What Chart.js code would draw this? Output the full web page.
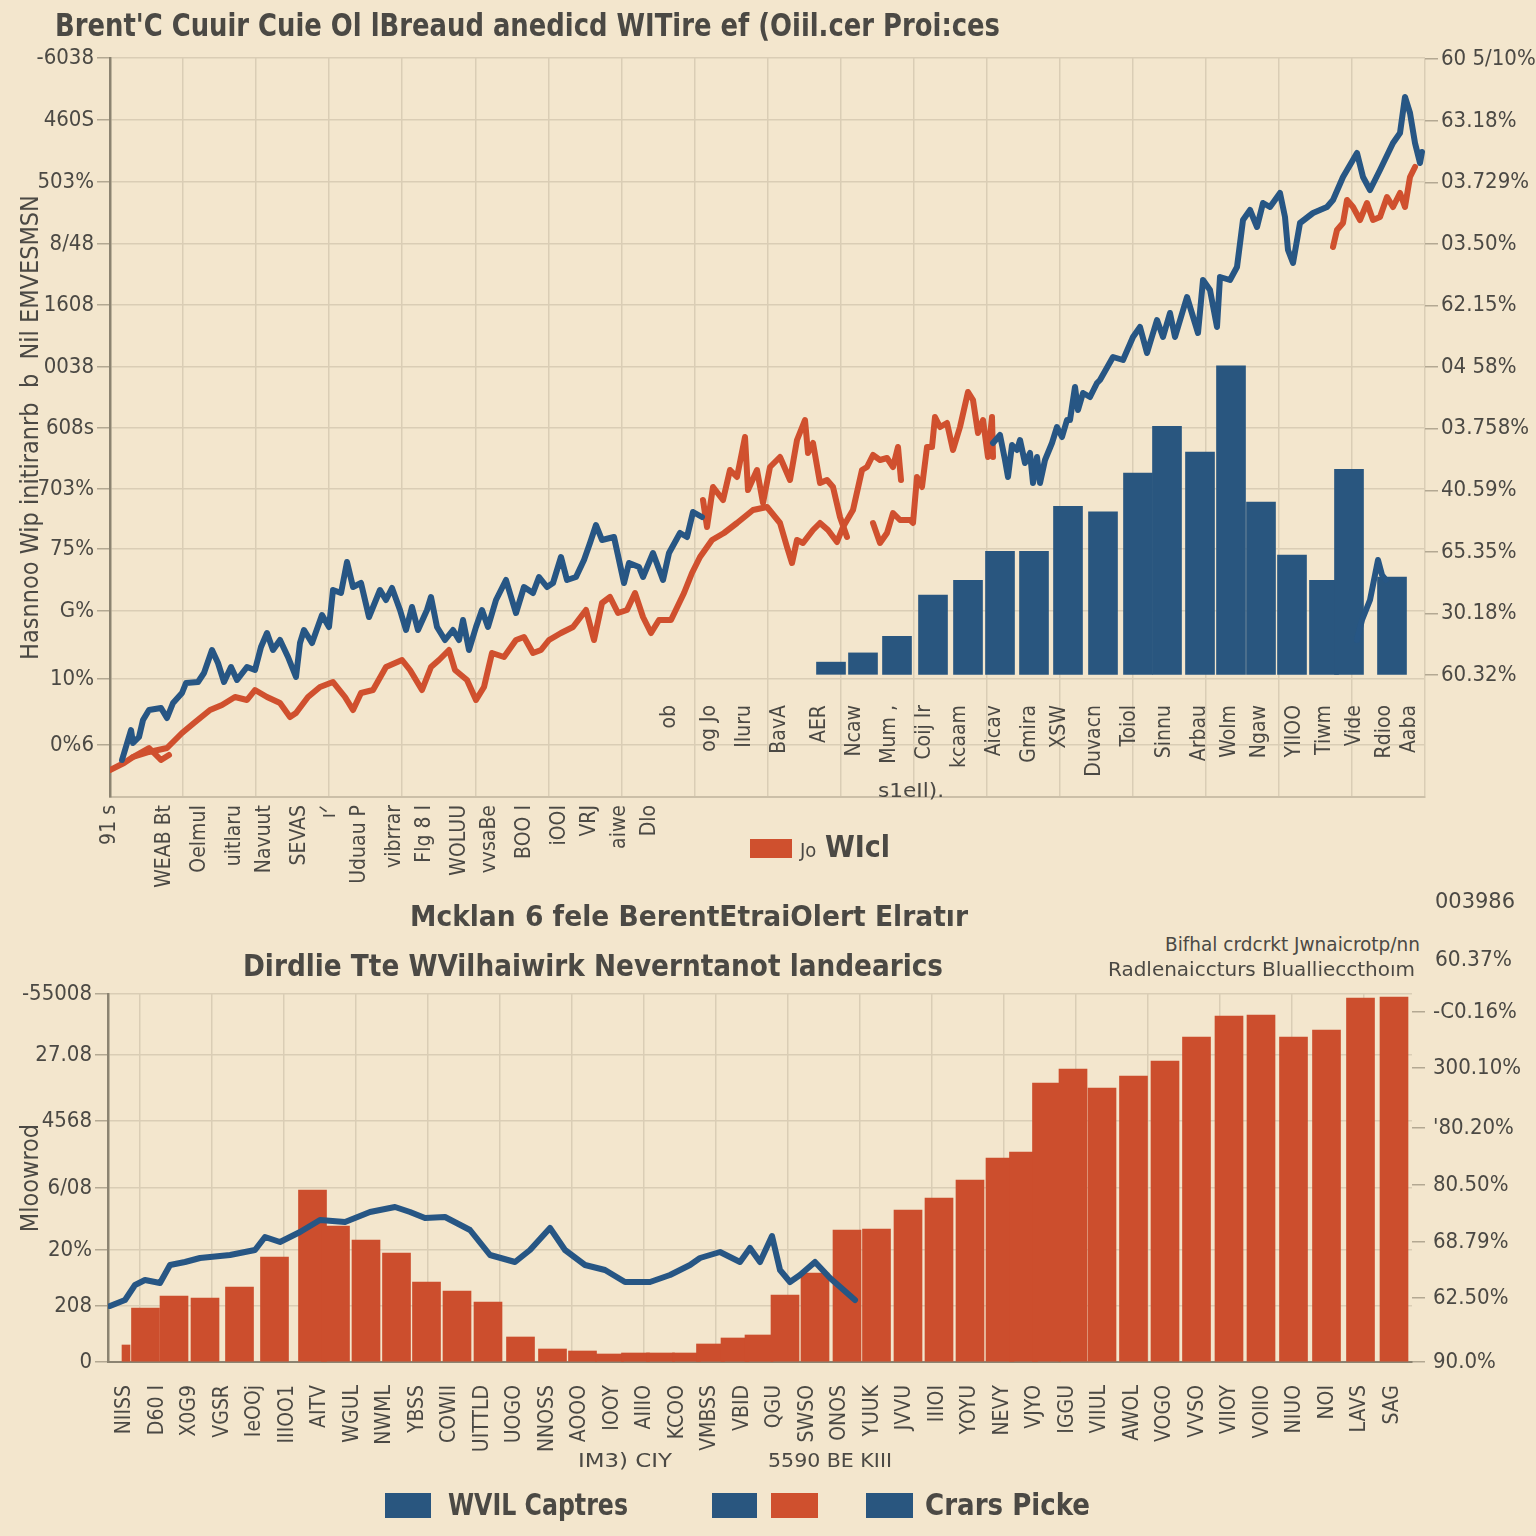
<!DOCTYPE html>
<html>
<head>
<meta charset="utf-8">
<script src="https://cdn.jsdelivr.net/npm/chart.js@4.4.1/dist/chart.umd.min.js"></script>
<style>
html,body{margin:0;padding:0;background:#f3e6cd;}
#wrap{position:relative;width:1536px;height:1536px;overflow:hidden;background:#f3e6cd;}
canvas{position:absolute;left:0;}
.t{position:absolute;white-space:nowrap;color:#4b4944;line-height:1;transform-origin:0 50%;
   font-family:"Liberation Sans Narrow","DejaVu Sans Condensed","Liberation Sans",sans-serif;z-index:2;}
.b{font-weight:bold;}
.box{position:absolute;z-index:2;}
</style>
</head>
<body>
<div id="wrap">
  <canvas id="topChart" width="1536" height="900" style="top:0"></canvas>
  <canvas id="botChart" width="1536" height="576" style="top:960px"></canvas>

  <div class="t b" data-w="945" style="left:55px;top:9px;font-size:32px;">Brent'C Cuuir Cuie Ol lBreaud anedicd WITire ef (Oiil.cer Proi:ces</div>

  <div class="box" style="left:750px;top:839px;width:42px;height:19px;background:#cf502e;"></div>
  <div class="t" data-w="90" style="left:800px;top:832px;font-size:30px;"><span style="font-size:20px">Jo</span> <b>WIcl</b></div>
  <div class="t" data-w="66" style="left:878px;top:780px;font-size:20px;">s1eIl).</div>

  <div class="t b" data-w="558" style="left:410px;top:902px;font-size:29px;">Mcklan 6 fele BerentEtraiOlert Elratır</div>
  <div class="t b" data-w="700" style="left:243px;top:950px;font-size:31px;">Dirdlie  Tte WVilhaiwirk Neverntanot landearics</div>
  <div class="t" data-w="255" style="left:1165px;top:935px;font-size:19px;">Bifhal crdcrkt Jwnaicrotp/nn</div>
  <div class="t" data-w="307" style="left:1108px;top:960px;font-size:19px;">Radlenaiccturs Bluallieccthoım</div>
  <div class="t" data-w="80" style="left:1435px;top:891px;font-size:21px;">003986</div>
  <div class="t" data-w="77" style="left:1435px;top:949px;font-size:21px;">60.37%</div>

  <div class="t" data-w="94" style="left:578px;top:1450px;font-size:20px;">IM3) CIY</div>
  <div class="t" data-w="124" style="left:768px;top:1450px;font-size:20px;">5590 BE KIII</div>

  <div class="box" style="left:385px;top:1493px;width:46px;height:25px;background:#29567f;"></div>
  <div class="t" data-w="180" style="left:448px;top:1490px;font-size:30px;font-weight:600;">WVIL Captres</div>
  <div class="box" style="left:712px;top:1493px;width:45px;height:25px;background:#29567f;"></div>
  <div class="box" style="left:771px;top:1493px;width:47px;height:25px;background:#cf502e;"></div>
  <div class="box" style="left:866px;top:1493px;width:47px;height:25px;background:#29567f;"></div>
  <div class="t" data-w="165" style="left:925px;top:1490px;font-size:30px;font-weight:600;">Crars Picke</div>
</div>

<script>
// ---------- top chart data (x: period index, y: left axis units) ----------
const blueEarly = [[2.4,3.7],[4.2,6.7],[4.6,5.4],[5.8,6.0],[6.6,7.7],[7.8,8.7],[10.2,8.9],[11.4,7.9],[12.6,9.4],[14.4,10.4],
  [15.2,11.4],[17.6,11.5],[18.8,12.4],[20.4,14.7],[21.6,13.4],[22.8,11.5],[24.2,13.0],[25.4,11.7],[27.4,13.0],[29.0,12.7],
  [30.2,15.0],[31.4,16.4],[32.6,14.7],[34.0,15.7],[35.6,14.0],[37.2,12.0],[38.0,15.4],[38.8,16.7],[40.4,15.4],[42.4,18.2],
  [43.8,17.0],[44.6,20.7],[46.2,20.4],[47.4,23.5],[48.6,21.0],[50.2,21.4],[51.8,18.0],[54.0,20.7],[55.2,19.7],[56.4,20.9],
  [58.0,18.7],[59.2,16.7],[60.4,19.0],[61.6,16.7],[63.4,18.7],[64.2,20.0],[65.4,17.0],[67.0,15.7],[68.6,16.7],[69.8,15.7],
  [70.6,17.7],[71.8,14.7],[73.2,17.0],[74.4,18.7],[75.6,17.0],[77.2,19.7],[79.2,21.7],[80.4,19.7],[81.2,18.4],[82.8,21.0],
  [84.6,20.4],[85.8,22.0],[87.4,21.0],[88.6,21.4],[90.2,24.0],[91.4,21.7],[93.2,22.0],[94.8,23.7],[96.0,25.4],[97.2,27.2],
  [98.4,25.7],[100.8,26.0],[102.8,21.4],[103.8,23.4],[105.8,23.0],[106.6,22.0],[108.6,24.4],[110.6,21.7],[111.8,24.4],
  [114.0,26.4],[115.4,26.0],[116.6,28.5],[118.4,28.0]];

const blueLate = [[176.6,35.4],[178.0,36.2],[179.0,33.7],[179.6,32.0],[180.4,35.2],[181.4,34.7],[182.0,35.7],[183.0,33.4],
  [184.0,34.4],[184.6,31.4],[185.4,34.0],[186.0,31.4],[187.0,33.7],[188.4,35.4],[189.4,37.0],[190.4,36.0],[191.4,37.7],
  [192.0,37.7],[193.0,41.0],[193.6,38.7],[194.6,40.4],[196.0,40.0],[197.4,41.4],[198.0,41.7],[200.6,44.0],[202.6,43.7],
  [204.6,46.0],[206.0,47.0],[207.4,44.4],[209.4,47.7],[210.6,46.0],[212.0,48.4],[213.0,46.0],[215.4,50.0],[217.6,46.4],
  [218.6,51.7],[220.0,50.7],[221.4,47.0],[222.0,52.0],[224.0,51.7],[225.4,53.0],[226.6,57.7],[228.0,58.7],[229.4,57.0],
  [230.6,59.4],[232.0,59.0],[234.0,60.4],[235.0,58.0],[235.6,54.7],[236.6,53.4],[238.0,57.4],[240.6,58.4],[243.4,59.0],
  [244.6,59.7],[246.6,62.0],[249.4,64.4],[250.6,62.0],[252.0,60.7],[254.0,62.7],[256.6,65.4],[258.0,66.4],[259.0,70.0],
  [260.0,68.4],[261.0,65.4],[262.0,63.4],[262.4,64.5]];

const blueStub = [[249.4,15.7],[250.4,17.7],[252.0,19.7],[253.6,23.7],[254.4,22.2],[255.2,21.7]];

const redMain = [[0,2.7],[2.8,3.4],[4.6,4.0],[7.8,4.5],[11.4,4.9],[14.4,6.4],[16.8,7.4],[20.0,8.7],[22.4,9.2],[25.0,10.0],
  [27.4,9.7],[29.0,10.7],[31.4,10.0],[34.0,9.4],[36.0,8.0],[37.2,8.4],[39.6,10.0],[42.0,11.0],[44.6,11.5],[47.0,10.0],
  [48.6,8.7],[50.2,10.4],[52.6,10.7],[55.2,13.0],[58.4,13.7],[60.0,12.7],[62.4,10.7],[64.2,13.0],[65.8,13.7],[67.8,14.7],
  [69.0,12.7],[71.4,11.7],[73.2,9.7],[74.8,11.0],[76.4,14.4],[78.8,14.0],[81.2,15.7],[82.8,16.0],[84.6,14.4],[86.2,14.7],
  [87.8,15.7],[90.2,16.4],[92.6,17.0],[95.2,18.7],[96.8,15.7],[98.4,19.4],[100.0,20.0],[101.6,18.4],[103.4,18.7],[105.0,20.4],
  [106.6,18.0],[108.2,16.4],[109.8,17.7],[112.2,17.7],[114.8,20.4],[116.4,22.4],[118.0,24.0],[120.4,25.7],[122.8,26.4],
  [125.4,27.4],[128.6,28.7],[131.4,29.0],[134.0,27.4],[135.4,25.0],[136.4,23.4],[137.4,25.7],[138.6,25.4],[140.6,26.7],
  [142.0,27.4],[143.6,26.7],[145.4,25.5],[146.6,27.0],[148.6,28.7],[150.4,32.7],[151.4,33.0],[152.6,34.2],[154.0,33.7],
  [155.4,33.9],[156.6,33.0],[157.6,35.0],[158.2,31.7]];

const redUpper = [[118.6,29.7],[119.4,27.0],[120.6,31.0],[122.6,29.7],[124.0,32.7],[125.4,32.0],[127.0,36.0],[127.6,30.7],
  [129.4,32.7],[130.6,29.4],[132.0,33.0],[134.0,34.0],[136.0,31.7],[137.4,35.7],[139.0,37.7],[139.6,34.4],[140.6,35.4],
  [142.0,31.4],[143.4,31.7],[144.6,31.0],[146.0,28.0],[147.4,26.0]];

const redLate = [[152.6,27.4],[154.0,25.4],[155.4,26.4],[156.6,28.4],[158.0,27.7],[160.0,27.7],[160.6,27.4],[161.4,32.0],
  [162.4,31.0],[163.4,35.0],[164.4,35.0],[165.0,38.0],[166.0,37.0],[167.4,37.4],[168.6,34.7],[170.0,37.0],[171.6,40.5],
  [172.6,39.7],[173.6,36.4],[174.6,37.7],[175.6,34.0],[176.4,38.0],[176.6,34.0]];

const redEnd = [[244.6,55.0],[245.4,56.7],[246.6,57.4],[247.4,59.7],[248.6,59.0],[250.0,57.7],[251.4,59.4],[252.6,57.7],
  [254.0,58.0],[255.4,60.0],[256.6,59.0],[258.0,60.4],[259.0,59.0],[260.0,62.0],[261.0,63.0]];

const redStub = [[4.6,4.0],[7.8,4.9],[10.2,3.7],[11.8,4.2]];

// top chart bars (right axis units)
const topBarX = [144.2,150.6,157.4,164.6,171.6,178.0,184.8,191.6,198.6,205.6,211.4,218.0,224.2,230.2,236.4,242.8,247.8,256.4];
const topBarVal = [0.21,0.36,0.63,1.30,1.54,2.01,2.01,2.74,2.65,3.28,4.04,3.62,5.02,2.81,1.95,1.54,3.34,1.59];

// top chart axis ticks
const topLeftTickVals = [5.2,11.8,18.6,24.8,30.8,36.9,43.0,49.2,55.3,61.5,67.7,73.9];
const topLeftTickLabels = ['0%6','10%','G%','75%','703%','608s','0038','1608','8/48','503%','460S','-6038'];
const topRightTickLabels = ['60.32%','30.18%','65.35%','40.59%','03.758%','04 58%','62.15%','03.50%','03.729%','63.18%','60 5/10%'];

const topLabelX1 = [0,11,18,25,31,38,44,50,57,63,70,76,83,90,96,102,108];
const topLabels1 = ['91 s','WEAB Bt','OelmuI','uitlaru','Navuut','SEVAS','ıᐟ','Uduau P','vibrrar','Flg 8 I','WOLUU',
  'vvsaBe','BOO I','iOOI','VRJ','aiwe','Dlo'];
const topLabelX2 = [112,120,127,134,142,149,156,163,170,177,184,190,197,204,211,218,224,230,237,243,249,255,260];
const topLabels2 = ['ob','og Jo','IIuru','BavA','AER','Ncaw','Mum ,','Coij Ir','kcaam','Aicav','Gmira','XSW',
  'Duvacn','Toiol','Sinnu','Arbau','Wolm','Ngaw','YIIOO','Tiwm','Vide','Rdioo','Aaba'];

// ---------- bottom chart data ----------
const botBarX = [7.5,13.2,19.4,26.3,33.3,40.9,45.5,51.6,57.7,63.7,69.8,76.0,82.5,88.9,94.9,100.3,105.5,110.5,115.7,
  120.5,125.4,130.2,135.4,141.4,147.8,153.7,160.0,166.2,172.4,178.4,183.1,187.7,193.0,198.8,205.1,211.4,217.7,224.2,
  230.6,237.1,243.7,250.5,257.2];
const botBarVal = [5.4,6.6,6.4,7.5,10.5,17.2,13.6,12.2,10.9,8.0,7.1,6.0,2.5,1.3,1.1,0.8,0.9,0.9,0.9,
  1.8,2.4,2.7,6.7,8.9,13.2,13.3,15.2,16.4,18.2,20.4,21.0,27.9,29.3,27.4,28.6,30.1,32.5,34.6,
  34.7,32.5,33.2,36.4,36.5];
const botThinX = [3.6];
const botThinVal = [1.7];

const botLine = [[0.4,5.6],[3.4,6.2],[5.4,7.7],[7.4,8.2],[10.4,7.9],[12.4,9.7],[15.4,10.0],[18.4,10.4],[24.4,10.7],
  [27.4,11.0],[29.4,11.2],[31.4,12.5],[34.4,12.0],[38.4,13.0],[42.4,14.2],[47.4,14.0],[52.4,15.0],[57.4,15.5],[60.4,15.0],
  [63.4,14.4],[67.4,14.5],[72.4,13.2],[76.4,10.7],[81.4,10.0],[84.4,11.2],[88.4,13.4],[91.4,11.2],[95.4,9.7],[99.4,9.2],
  [103.4,8.0],[108.4,8.0],[112.4,8.7],[116.4,9.7],[118.4,10.4],[122.4,11.0],[126.4,10.0],[128.4,11.4],[130.4,10.0],
  [132.8,12.6],[134.4,9.2],[136.4,8.0],[138.4,8.7],[141.4,10.0],[144.4,8.4],[149.4,6.2]];

const botLeftTickVals = [0,5.6,11.2,17.4,24.1,30.7,36.8];
const botLeftTickLabels = ['0','208','20%','6/08','4568','27.08','-55008'];
const botRightTickVals = [0,6.4,12.0,17.7,23.4,29.4,35.0];
const botRightTickLabels = ['90.0%','62.50%','68.79%','80.50%',"'80.20%",'300.10%','-C0.16%'];
const botGridX = [6.4,20.8,35.2,49.6,64,78.4,92.8,107.2,121.6,136,150.4,164.8,179.2,193.6,208,222.4,236.8,251.2];

const botLabelX = [3.4,9.9,16.4,22.9,29.4,35.9,42.4,48.9,55.4,61.9,68.4,74.9,81.4,87.9,94.4,100.9,107.4,113.9,120.4,
  126.9,133.4,139.9,146.4,152.9,159.4,165.9,172.4,178.9,185.4,191.9,198.4,204.9,211.4,217.9,224.4,230.9,237.4,243.9,
  250.4,256.9];
const botLabels = ['NIISS','D60 I','X0G9','VGSR','IeOOj','IIIOO1','AITV','WGUL','NWML','YBSS','COWII','UITTLD','UOGO',
  'NNOSS','AOOO','IOOY','AIIIO','KCOO','VMBSS','VBID','QGU','SWSO','ONOS','YUUK','JVVU','IIIOI','YOYU','NEVY','VJYO',
  'IGGU','VIIUL','AWOL','VOGO','VVSO','VIIOY','VOIIO','NIUO','NOI','LAVS','SAG'];

// ---------- styles ----------
const FONT = '"Liberation Sans Narrow","DejaVu Sans Condensed","Liberation Sans",sans-serif';
const TXT = '#4b4944';
const GRID = '#dacdb5';
const AXIS = '#8b8371';
const BLUE = '#275684';
const RED = '#d0502e';
const BAR_BLUE = '#29567f';
const BAR_RED = '#cc4e2d';

function lineSet(points, color) {
  return {type:'line', data: points, borderColor: color, borderWidth: 6, pointRadius: 0, tension: 0,
    fill: false, borderJoinStyle: 'round', borderCapStyle: 'round', yAxisID: 'y', order: 1};
}

function rotLabels(groups) {
  return {
    id: 'rotLabels',
    afterDatasetsDraw(chart) {
      const ctx = chart.ctx, xs = chart.scales.x, ys = chart.scales.y;
      ctx.save();
      ctx.fillStyle = TXT;
      ctx.font = '21px ' + FONT;
      ctx.textAlign = 'right';
      ctx.textBaseline = 'middle';
      groups.forEach(g => {
        g.values.forEach((v, i) => {
          ctx.save();
          ctx.translate(xs.getPixelForValue(v), ys.getPixelForValue(g.anchor));
          ctx.rotate(-Math.PI / 2);
          ctx.fillText(g.texts[i], 0, 0);
          ctx.restore();
        });
      });
      ctx.restore();
    }
  };
}

const tickFont = {size: 22, family: FONT};

// ---------- top chart ----------
new Chart(document.getElementById('topChart'), {
  type: 'line',
  data: {datasets: [
    lineSet(blueEarly, BLUE), lineSet(blueLate, BLUE), lineSet(blueStub, BLUE),
    lineSet(redMain, RED), lineSet(redUpper, RED), lineSet(redLate, RED), lineSet(redEnd, RED), lineSet(redStub, RED),
    {type: 'bar', data: topBarX.map((x, i) => ({x: x, y: topBarVal[i]})), yAxisID: 'yr',
     backgroundColor: BAR_BLUE, barThickness: 29, grouped: false, order: 5}
  ]},
  options: {
    responsive: false, animation: false,
    layout: {padding: {top: 58, left: 0, right: 0, bottom: 0}},
    plugins: {legend: {display: false}, tooltip: {enabled: false}},
    scales: {
      x: {type: 'linear', min: 0, max: 263, offset: false,
        ticks: {display: false, stepSize: 14.6},
        grid: {color: GRID, lineWidth: 1.5, drawTicks: false, offset: false},
        border: {color: '#cbbfa8', width: 2},
        afterFit: s => { s.height = 103; }},
      y: {type: 'linear', position: 'left', min: 0, max: 73.9,
        afterBuildTicks: s => { s.ticks = topLeftTickVals.map(v => ({value: v})); },
        ticks: {callback: (v, i) => topLeftTickLabels[i], color: TXT, font: tickFont, padding: 3},
        grid: {color: GRID, lineWidth: 1.5, tickLength: 13, tickColor: '#b3a892'},
        border: {color: AXIS, width: 2.5},
        title: {display: true, text: 'Hasnnoo Wip initiranrb  b  Nil EMVESMSN', color: TXT,
          font: {size: 25, family: FONT}, padding: {top: 16, bottom: 0}},
        afterFit: s => { s.width = 110; }},
      yr: {type: 'linear', position: 'right', min: -1.98, max: 10.02,
        afterBuildTicks: s => { s.ticks = topRightTickLabels.map((l, i) => ({value: i})); },
        ticks: {callback: (v, i) => topRightTickLabels[i], color: TXT, font: tickFont, padding: 3},
        grid: {drawOnChartArea: false, tickLength: 13, tickColor: '#b3a892', lineWidth: 1.5},
        border: {display: false},
        afterFit: s => { s.width = 111; }}
    }
  },
  plugins: [rotLabels([
    {values: topLabelX1, texts: topLabels1, anchor: -0.8},
    {values: topLabelX2, texts: topLabels2, anchor: 9.2}
  ])]
});

// ---------- bottom chart ----------
new Chart(document.getElementById('botChart'), {
  type: 'line',
  data: {datasets: [
    lineSet(botLine, BLUE),
    {type: 'bar', data: botBarX.map((x, i) => ({x: x, y: botBarVal[i]})), yAxisID: 'y',
     backgroundColor: BAR_RED, barThickness: 28, grouped: false, order: 5},
    {type: 'bar', data: botThinX.map((x, i) => ({x: x, y: botThinVal[i]})), yAxisID: 'y',
     backgroundColor: BAR_RED, barThickness: 8, grouped: false, order: 5}
  ]},
  options: {
    responsive: false, animation: false,
    layout: {padding: {top: 34, left: 0, right: 0, bottom: 0}},
    plugins: {legend: {display: false}, tooltip: {enabled: false}},
    scales: {
      x: {type: 'linear', min: 0, max: 260.8, offset: false,
        afterBuildTicks: s => { s.ticks = botGridX.map(v => ({value: v})); },
        ticks: {display: false},
        grid: {color: GRID, lineWidth: 1.5, drawTicks: false, offset: false},
        border: {color: AXIS, width: 2},
        afterFit: s => { s.height = 174; }},
      y: {type: 'linear', position: 'left', min: 0, max: 36.8,
        afterBuildTicks: s => { s.ticks = botLeftTickVals.map(v => ({value: v})); },
        ticks: {callback: (v, i) => botLeftTickLabels[i], color: TXT, font: tickFont, padding: 3},
        grid: {color: GRID, lineWidth: 1.5, tickLength: 13, tickColor: '#b3a892'},
        border: {color: AXIS, width: 2.5},
        title: {display: true, text: 'Mloowrod', color: TXT, font: {size: 25, family: FONT},
          padding: {top: 16, bottom: 0}},
        afterFit: s => { s.width = 108; }},
      yr: {type: 'linear', position: 'right', min: 0, max: 36.8,
        afterBuildTicks: s => { s.ticks = botRightTickVals.map(v => ({value: v})); },
        ticks: {callback: (v, i) => botRightTickLabels[i], color: TXT, font: tickFont, padding: 8},
        grid: {drawOnChartArea: false, tickLength: 13, tickColor: '#b3a892', lineWidth: 1.5},
        border: {display: false},
        afterFit: s => { s.width = 124; }}
    }
  },
  plugins: [rotLabels([{values: botLabelX, texts: botLabels, anchor: -2.3}])]
});

// squeeze the html texts to the widths seen in the picture
document.querySelectorAll('.t[data-w]').forEach(el => {
  const w = el.getBoundingClientRect().width;
  el.style.transform = 'scaleX(' + (el.dataset.w / w) + ')';
});
</script>
</body>
</html>
